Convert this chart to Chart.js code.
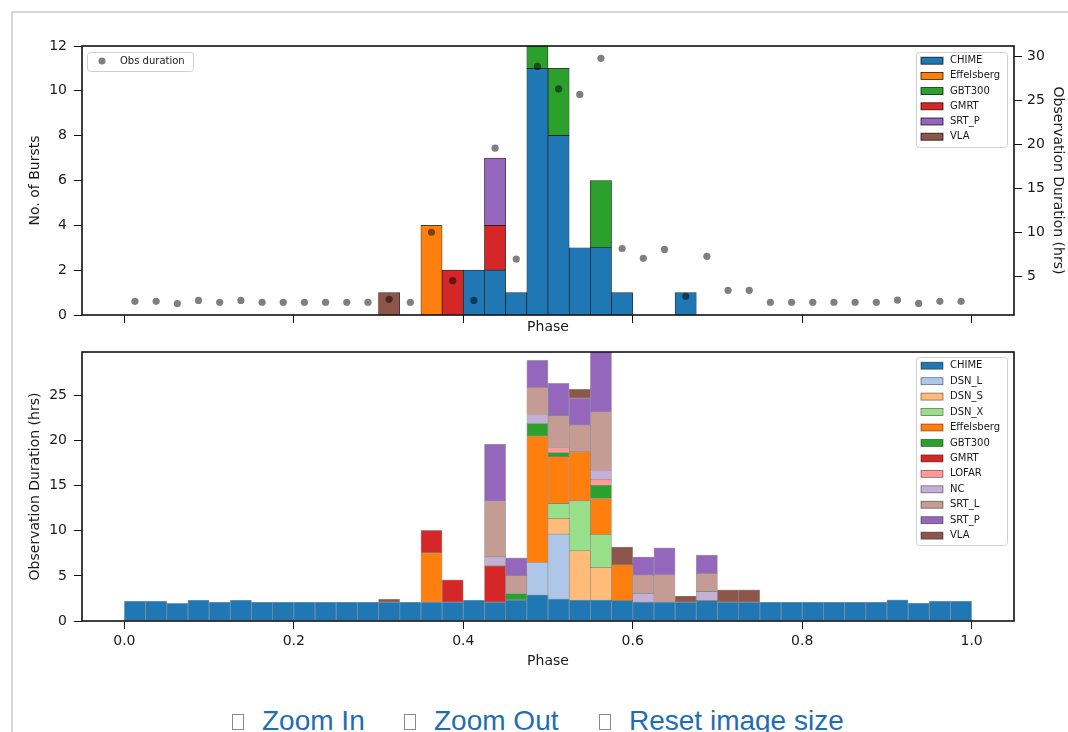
<!DOCTYPE html>
<html><head><meta charset="utf-8">
<script src="https://cdn.jsdelivr.net/npm/chart.js@4/dist/chart.umd.min.js"></script>
<style>
html,body{margin:0;padding:0;background:#fff;}
body{width:1068px;height:732px;overflow:hidden;position:relative;font-family:'DejaVu Sans',sans-serif;}
#frameTop{position:absolute;left:11px;top:11px;width:1057px;height:0;border-top:2px solid #d6d6d6;}
#frameLeft{position:absolute;left:11px;top:11px;width:0;height:721px;border-left:2px solid #d6d6d6;}
.cv{position:absolute;left:0;width:1068px;height:340px;}
#c1{top:0;} #c2{top:340px;}
.lnk{position:absolute;top:707px;line-height:28px;font-family:'Liberation Sans',Arial,sans-serif;font-size:28px;color:#1f6db3;white-space:nowrap;}
.bx{position:absolute;top:714px;width:12px;height:16px;border:1px solid #8a8a8a;box-sizing:border-box;}
</style>
</head><body>
<div id="frameTop"></div><div id="frameLeft"></div>
<div class="cv" id="c1"><canvas id="top" width="1068" height="340"></canvas></div>
<div class="cv" id="c2"><canvas id="bot" width="1068" height="340"></canvas></div>
<span class="bx" style="left:232px"></span><span class="lnk" style="left:262px">Zoom In</span>
<span class="bx" style="left:404px"></span><span class="lnk" style="left:434px">Zoom Out</span>
<span class="bx" style="left:599px"></span><span class="lnk" style="left:629px">Reset image size</span>
<script>
// ---------- data ----------
const phaseCenters = [0.0125,0.0375,0.0625,0.0875,0.1125,0.1375,0.1625,0.1875,0.2125,0.2375,
  0.2625,0.2875,0.3125,0.3375,0.3625,0.3875,0.4125,0.4375,0.4625,0.4875,
  0.5125,0.5375,0.5625,0.5875,0.6125,0.6375,0.6625,0.6875,0.7125,0.7375,
  0.7625,0.7875,0.8125,0.8375,0.8625,0.8875,0.9125,0.9375,0.9625,0.9875];
const phaseTicks = [0, 0.2, 0.4, 0.6, 0.8, 1.0];
const burstTicks = [0, 2, 4, 6, 8, 10, 12];
const durTicksRight = [5, 10, 15, 20, 25, 30];
const durTicksBottom = [0, 5, 10, 15, 20, 25];

// Top panel: number of bursts per phase bin
const burstCHIME      = [0,0,0,0,0,0,0,0,0,0, 0,0,0,0,0,0,2,2,1,11, 8,3,3,1,0,0,1,0,0,0, 0,0,0,0,0,0,0,0,0,0];
const burstEffelsberg = [0,0,0,0,0,0,0,0,0,0, 0,0,0,0,4,0,0,0,0,0, 0,0,0,0,0,0,0,0,0,0, 0,0,0,0,0,0,0,0,0,0];
const burstGBT300     = [0,0,0,0,0,0,0,0,0,0, 0,0,0,0,0,0,0,0,0,1, 3,0,3,0,0,0,0,0,0,0, 0,0,0,0,0,0,0,0,0,0];
const burstGMRT       = [0,0,0,0,0,0,0,0,0,0, 0,0,0,0,0,2,0,2,0,0, 0,0,0,0,0,0,0,0,0,0, 0,0,0,0,0,0,0,0,0,0];
const burstSRT_P      = [0,0,0,0,0,0,0,0,0,0, 0,0,0,0,0,0,0,3,0,0, 0,0,0,0,0,0,0,0,0,0, 0,0,0,0,0,0,0,0,0,0];
const burstVLA        = [0,0,0,0,0,0,0,0,0,0, 0,0,1,0,0,0,0,0,0,0, 0,0,0,0,0,0,0,0,0,0, 0,0,0,0,0,0,0,0,0,0];
// Total observation duration per bin (hrs)
const obsDuration = [2.2,2.2,1.95,2.3,2.1,2.3,2.1,2.1,2.1,2.1, 2.1,2.1,2.43,2.1,10.05,4.55,2.3,19.6,7.0,28.88,
  26.32,25.7,29.8,8.2,7.09,8.1,2.77,7.31,3.45,3.45, 2.1,2.1,2.1,2.1,2.1,2.1,2.35,1.97,2.2,2.2];

// Bottom panel: observation duration per telescope (hrs)
const durCHIME = [2.2,2.2,1.95,2.3,2.1,2.3,2.1,2.1,2.1,2.1, 2.1,2.1,2.1,2.1,2.1,2.1,2.3,2.1,2.3,2.88,
  2.43,2.3,2.3,2.25,2.1,2.1,2.1,2.25,2.1,2.1, 2.1,2.1,2.1,2.1,2.1,2.1,2.35,1.97,2.2,2.2];
const durDSN_L = [0,0,0,0,0,0,0,0,0,0, 0,0,0,0,0,0,0,0,0,3.6, 7.2,0,0,0,0,0,0,0,0,0, 0,0,0,0,0,0,0,0,0,0];
const durDSN_S = [0,0,0,0,0,0,0,0,0,0, 0,0,0,0,0,0,0,0,0,0, 1.74,5.48,3.64,0,0,0,0,0,0,0, 0,0,0,0,0,0,0,0,0,0];
const durDSN_X = [0,0,0,0,0,0,0,0,0,0, 0,0,0,0,0,0,0,0,0,0, 1.64,5.52,3.65,0,0,0,0,0,0,0, 0,0,0,0,0,0,0,0,0,0];
const durEffelsberg = [0,0,0,0,0,0,0,0,0,0, 0,0,0,0,5.45,0,0,0,0,14.0, 5.2,5.43,3.98,4.0,0,0,0,0,0,0, 0,0,0,0,0,0,0,0,0,0];
const durGBT300 = [0,0,0,0,0,0,0,0,0,0, 0,0,0,0,0,0,0,0,0.75,1.4, 0.46,0,1.47,0,0,0,0,0,0,0, 0,0,0,0,0,0,0,0,0,0];
const durGMRT = [0,0,0,0,0,0,0,0,0,0, 0,0,0,0,2.5,2.45,0,4.0,0,0, 0,0,0,0,0,0,0,0,0,0, 0,0,0,0,0,0,0,0,0,0];
const durLOFAR = [0,0,0,0,0,0,0,0,0,0, 0,0,0,0,0,0,0,0,0,0, 0.55,0,0.66,0,0,0,0,0,0,0, 0,0,0,0,0,0,0,0,0,0];
const durNC = [0,0,0,0,0,0,0,0,0,0, 0,0,0,0,0,0,0,1.0,0,1.0, 0,0,1.0,0,0.96,0,0,1.0,0,0, 0,0,0,0,0,0,0,0,0,0];
const durSRT_L = [0,0,0,0,0,0,0,0,0,0, 0,0,0,0,0,0,0,6.2,1.95,3.0, 3.5,2.97,6.45,0,2.03,3.0,0,2.03,0,0, 0,0,0,0,0,0,0,0,0,0];
const durSRT_P = [0,0,0,0,0,0,0,0,0,0, 0,0,0,0,0,0,0,6.3,2.0,3.0, 3.6,3.0,6.65,0,2.0,3.0,0,2.03,0,0, 0,0,0,0,0,0,0,0,0,0];
const durVLA = [0,0,0,0,0,0,0,0,0,0, 0,0,0.33,0,0,0,0,0,0,0, 0,1.0,0,1.95,0,0,0.67,0,1.35,1.35, 0,0,0,0,0,0,0,0,0,0];

const COL = {CHIME:'#1f77b4', DSN_L:'#aec7e8', DSN_S:'#ffbb78', DSN_X:'#98df8a', Effelsberg:'#ff7f0e',
  GBT300:'#2ca02c', GMRT:'#d62728', LOFAR:'#ff9896', NC:'#c5b0d5', SRT_L:'#c49c94', SRT_P:'#9467bd', VLA:'#8c564b'};

// ---------- helpers ----------
Chart.defaults.font.family = "'DejaVu Sans', sans-serif";
Chart.defaults.font.size = 14;
Chart.defaults.color = '#1a1a1a';
Chart.defaults.animation = false;

function barSet(label, arr, edge) {
  return {type:'bar', label, backgroundColor: COL[label], borderColor: edge, borderWidth: 0.7,
    borderSkipped: false, barPercentage: 1, categoryPercentage: 1, order: 1,
    data: phaseCenters.map((x, i) => ({x, y: arr[i] ? arr[i] : null}))};
}

const frameBox = {
  id: 'frameBox',
  afterDatasetsDraw(chart) {
    const {ctx, chartArea: a} = chart;
    ctx.save(); ctx.strokeStyle = '#111'; ctx.lineWidth = 1.6;
    ctx.strokeRect(a.left, a.top, a.right - a.left, a.bottom - a.top);
    ctx.restore();
  }
};

function roundRect(ctx, x, y, w, h, r) {
  ctx.beginPath();
  ctx.moveTo(x + r, y); ctx.lineTo(x + w - r, y); ctx.arcTo(x + w, y, x + w, y + r, r);
  ctx.lineTo(x + w, y + h - r); ctx.arcTo(x + w, y + h, x + w - r, y + h, r);
  ctx.lineTo(x + r, y + h); ctx.arcTo(x, y + h, x, y + h - r, r);
  ctx.lineTo(x, y + r); ctx.arcTo(x, y, x + r, y, r); ctx.closePath();
}

const boxLegend = {
  id: 'boxLegend',
  afterDraw(chart, args, opts) {
    const ctx = chart.ctx;
    (opts.boxes || []).forEach(b => {
      ctx.save();
      roundRect(ctx, b.x + 0.5, b.y + 0.5, b.w, b.h, 3);
      ctx.fillStyle = 'rgba(255,255,255,0.8)'; ctx.fill();
      ctx.strokeStyle = '#cfcfcf'; ctx.lineWidth = 1; ctx.stroke();
      ctx.font = "10px 'DejaVu Sans', sans-serif";
      ctx.textBaseline = 'middle'; ctx.textAlign = 'left';
      b.items.forEach((di, k) => {
        const ds = chart.data.datasets[di];
        const cy = b.firstY + k * b.rowH;
        if (ds.type === 'scatter') {
          ctx.beginPath(); ctx.arc(b.x + 15, cy, 3.5, 0, Math.PI * 2);
          ctx.fillStyle = ds.backgroundColor; ctx.fill();
          ctx.fillStyle = '#1a1a1a'; ctx.fillText(ds.label, b.x + 33, cy);
        } else {
          ctx.fillStyle = ds.backgroundColor;
          ctx.fillRect(b.x + 5, cy - 3.5, 22, 7);
          ctx.strokeStyle = b.edge; ctx.lineWidth = 0.8;
          ctx.strokeRect(b.x + 5, cy - 3.5, 22, 7);
          ctx.fillStyle = '#1a1a1a'; ctx.fillText(ds.label, b.x + 34, cy);
        }
      });
      ctx.restore();
    });
  }
};

function xScale(showLabels, axisH, titlePad) {
  return {
    type: 'linear', min: -0.05, max: 1.05, stacked: true, offset: false,
    afterBuildTicks: s => { s.ticks = phaseTicks.map(v => ({value: v})); },
    afterFit: s => { s.height = axisH; },
    grid: {display: true, drawOnChartArea: false, drawTicks: true, tickLength: 8, color: '#111', offset: false},
    border: {display: false},
    ticks: {padding: 4, maxRotation: 0, autoSkip: false, callback: v => showLabels ? Number(v).toFixed(1) : ''},
    title: {display: true, text: 'Phase', font: {size: 14}, padding: {top: 0, bottom: titlePad}}
  };
}
function yScale(pos, min, max, ticks, title, w, titlePad, stacked) {
  return {
    type: 'linear', position: pos, min, max, stacked,
    afterBuildTicks: s => { s.ticks = ticks.map(v => ({value: v})); },
    afterFit: s => { s.width = w; s.paddingTop = 0; s.paddingBottom = 0; },
    grid: {display: true, drawOnChartArea: false, drawTicks: true, tickLength: 8, color: '#111'},
    border: {display: false},
    ticks: {padding: pos === 'left' ? 7 : 5, autoSkip: false},
    title: {display: true, text: title, font: {size: 14}, padding: {top: titlePad, bottom: 0}}
  };
}

// ---------- top chart ----------
const topEdge = 'rgba(0,0,0,0.85)';
new Chart(document.getElementById('top'), {
  data: {datasets: [
    barSet('CHIME', burstCHIME, topEdge),
    barSet('Effelsberg', burstEffelsberg, topEdge),
    barSet('GBT300', burstGBT300, topEdge),
    barSet('GMRT', burstGMRT, topEdge),
    barSet('SRT_P', burstSRT_P, topEdge),
    barSet('VLA', burstVLA, topEdge),
    {type: 'scatter', label: 'Obs duration', yAxisID: 'y2', order: -1,
     backgroundColor: 'rgba(0,0,0,0.5)', borderWidth: 0, pointRadius: 3.6,
     data: phaseCenters.map((x, i) => ({x, y: obsDuration[i]}))}
  ]},
  options: {
    responsive: false, maintainAspectRatio: false,
    layout: {padding: {top: 46, left: 0, right: 0, bottom: 0}},
    scales: {
      x: xScale(false, 25, 4.6),
      y: yScale('left', 0, 12, burstTicks, 'No. of Bursts', 82, 26.6, true),
      y2: yScale('right', 0.65, 31.2, durTicksRight, 'Observation Duration (hrs)', 54, 1.6, false)
    },
    plugins: {
      legend: {display: false}, tooltip: {enabled: false},
      boxLegend: {boxes: [
        {x: 87, y: 52, w: 106, h: 19, firstY: 61, rowH: 15, items: [6], edge: topEdge},
        {x: 916, y: 52, w: 91, h: 95, firstY: 60.7, rowH: 15.2, items: [0,1,2,3,4,5], edge: topEdge}
      ]}
    }
  },
  plugins: [frameBox, boxLegend]
});

// ---------- bottom chart ----------
const botEdge = 'rgba(0,0,0,0.35)';
new Chart(document.getElementById('bot'), {
  data: {datasets: [
    barSet('CHIME', durCHIME, botEdge),
    barSet('DSN_L', durDSN_L, botEdge),
    barSet('DSN_S', durDSN_S, botEdge),
    barSet('DSN_X', durDSN_X, botEdge),
    barSet('Effelsberg', durEffelsberg, botEdge),
    barSet('GBT300', durGBT300, botEdge),
    barSet('GMRT', durGMRT, botEdge),
    barSet('LOFAR', durLOFAR, botEdge),
    barSet('NC', durNC, botEdge),
    barSet('SRT_L', durSRT_L, botEdge),
    barSet('SRT_P', durSRT_P, botEdge),
    barSet('VLA', durVLA, botEdge)
  ]},
  options: {
    responsive: false, maintainAspectRatio: false,
    layout: {padding: {top: 12, left: 0, right: 54, bottom: 0}},
    scales: {
      x: xScale(true, 59, 10.6),
      y: yScale('left', 0, 29.8, durTicksBottom, 'Observation Duration (hrs)', 82, 26.6, true)
    },
    plugins: {
      legend: {display: false}, tooltip: {enabled: false},
      boxLegend: {boxes: [
        {x: 916, y: 17, w: 91, h: 188, firstY: 25.7, rowH: 15.45, items: [0,1,2,3,4,5,6,7,8,9,10,11], edge: 'rgba(0,0,0,0.5)'}
      ]}
    }
  },
  plugins: [frameBox, boxLegend]
});
</script>
</body></html>
